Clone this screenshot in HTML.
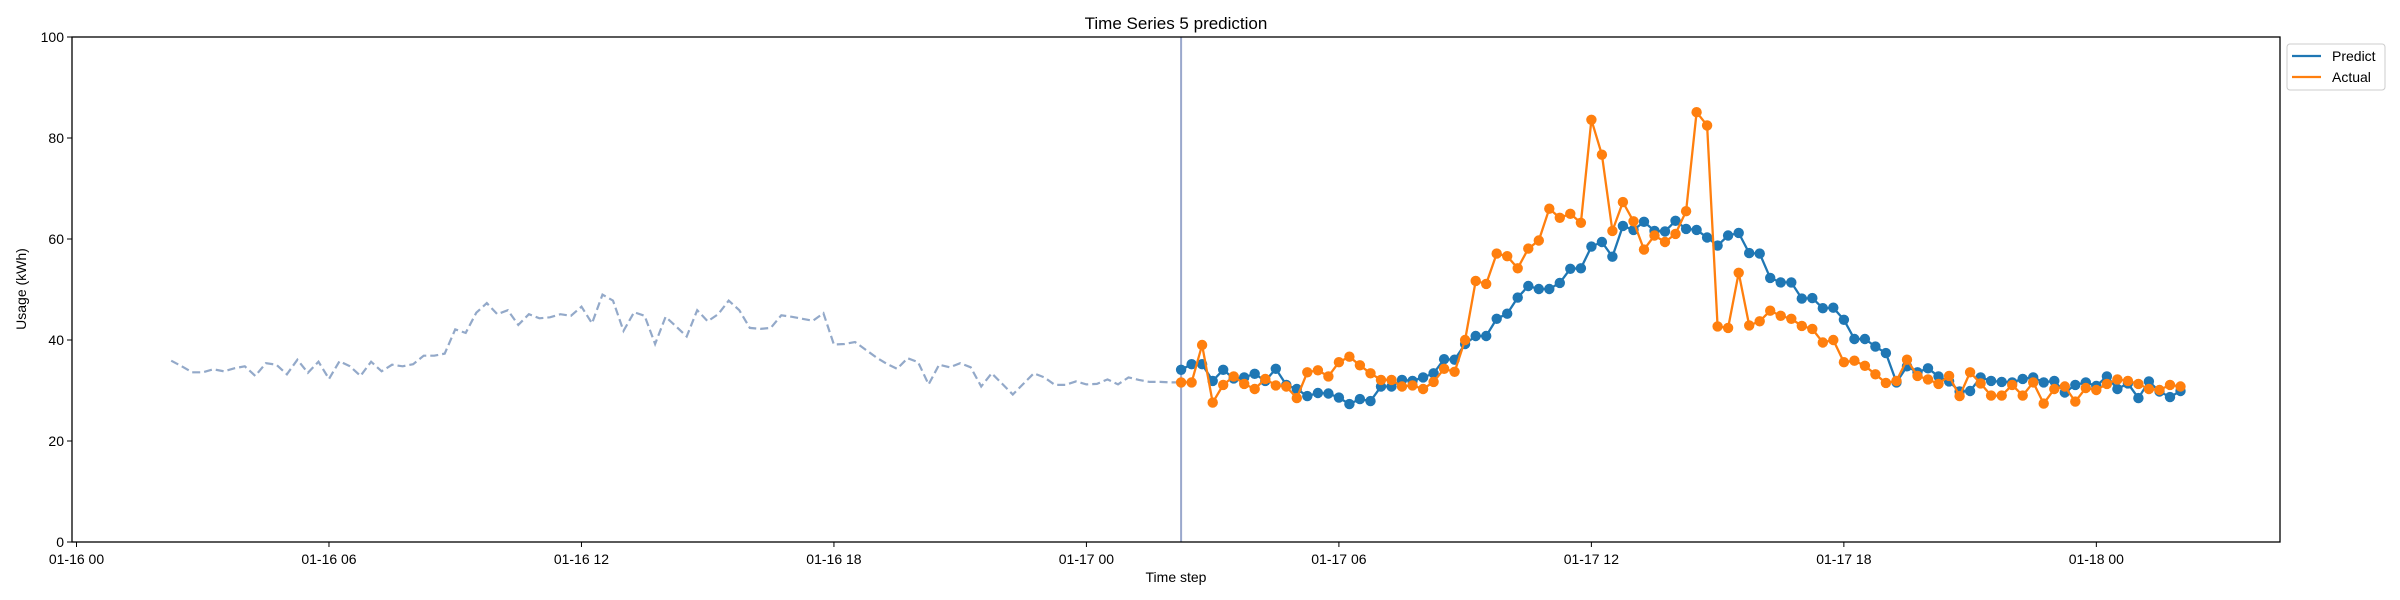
<!DOCTYPE html>
<html><head><meta charset="utf-8"><style>
html,body{margin:0;padding:0;background:#fff;}
svg{display:block;font-family:"Liberation Sans",sans-serif;}
</style></head><body>
<svg id="chart" width="2400" height="600" viewBox="0 0 2400 600" xmlns="http://www.w3.org/2000/svg">
<rect width="2400" height="600" fill="#fff"/>
<text x="1176" y="29" font-size="17" text-anchor="middle">Time Series 5 prediction</text>
<text x="1176" y="582" font-size="14" text-anchor="middle">Time step</text>
<text transform="translate(26,289) rotate(-90)" font-size="14" text-anchor="middle">Usage (kWh)</text>
<g id="plot"></g>
<g>
<rect x="2287" y="44" width="98" height="46" rx="3" fill="#fff" stroke="#ccc" stroke-width="1"/>
<line x1="2292" y1="56" x2="2321" y2="56" stroke="#1f77b4" stroke-width="2.3"/>
<text x="2332" y="61" font-size="14">Predict</text>
<line x1="2292" y1="77" x2="2321" y2="77" stroke="#ff7f0e" stroke-width="2.3"/>
<text x="2332" y="82" font-size="14">Actual</text>
</g>
</svg>
<script>
const xTickLabels = ["01-16 00","01-16 06","01-16 12","01-16 18","01-17 00","01-17 06","01-17 12","01-17 18","01-18 00"];
const xTickHours = [0,6,12,18,24,30,36,42,48];
const yTicks = [0,20,40,60,80,100];
const historyStartHour = 2.25;
const forecastStartHour = 26.25;
const stepHours = 0.25;
const history = [35.9,34.8,33.6,33.6,34.2,33.8,34.4,34.8,32.9,35.4,35.1,33.2,36.1,33.5,35.7,32.3,35.8,34.8,32.9,35.7,33.8,35.1,34.8,35.2,36.9,36.9,37.3,42.1,41.4,45.4,47.3,45.1,45.9,43.0,45.1,44.3,44.5,45.1,44.8,46.6,43.3,49.0,47.8,41.8,45.5,44.8,39.2,44.6,42.7,40.7,45.9,43.7,45.1,47.8,45.9,42.4,42.2,42.4,
44.9,44.6,44.2,43.8,45.3,39.1,39.2,39.6,38.1,36.6,35.3,34.3,36.4,35.6,31.2,35.1,34.6,35.4,34.6,30.8,33.4,31.3,29.2,31.3,33.4,32.6,31.1,31.1,31.8,31.2,31.3,32.2,31.2,32.6,32.1,31.7,31.7,31.6,31.6];
const predict = [34.1,35.2,35.2,31.9,34.1,32.4,32.6,33.3,31.9,34.3,31.1,30.3,28.9,29.5,29.4,28.6,27.3,28.3,27.9,30.8,30.8,32.1,31.9,32.6,33.4,36.2,36.1,39.2,40.8,40.8,44.2,45.2,48.4,50.7,50.1,50.1,51.3,54.1,54.2,58.5,59.4,56.5,62.6,61.8,63.4,61.6,61.5,63.6,62.0,61.8,60.3,58.7,60.7,61.2,57.2,57.1,52.3,51.4,51.4,48.2,48.3,46.3,46.4,44.0,40.2,40.2,38.7,37.4,31.6,34.8,33.6,34.4,32.8,31.8,29.8,29.9,32.6,31.9,31.7,31.6,32.3,32.6,31.6,31.9,29.6,31.1,31.6,30.9,32.8,30.3,31.4,28.5,31.8,29.8,28.7,29.9];
const actual = [31.6,31.6,39.0,27.6,31.1,32.8,31.3,30.3,32.3,31.0,30.8,28.5,33.6,34.0,32.8,35.6,36.7,35.0,33.4,32.1,32.1,30.8,31.0,30.3,31.7,34.3,33.7,40.0,51.7,51.1,57.1,56.6,54.2,58.1,59.7,66.0,64.2,65.0,63.2,83.6,76.7,61.6,67.3,63.5,57.9,60.7,59.4,61.0,65.5,85.1,82.5,42.7,42.4,53.3,42.9,43.7,45.8,44.8,44.2,42.8,42.2,39.5,40.0,35.6,35.9,34.9,33.2,31.5,31.9,36.1,32.9,32.2,31.3,32.9,28.9,33.6,31.4,29.0,29.0,31.1,29.0,31.6,27.4,30.3,30.8,27.8,30.5,30.1,31.3,32.2,31.9,31.3,30.3,30.1,31.1,30.8];

const L=72,R=2280,T=37,B=542;
const X0=76.5, PXH=42.08;
const xs = h => X0 + h*PXH;
const ys = v => B - (v/100)*(B-T);
const NS="http://www.w3.org/2000/svg";
const plot=document.getElementById('plot');
function mk(tag,attrs,parent){const e=document.createElementNS(NS,tag);for(const k in attrs)e.setAttribute(k,attrs[k]);(parent||plot).appendChild(e);return e;}

// y ticks
yTicks.forEach(v=>{
  const t=mk('line',{x1:L-5,x2:L,y1:ys(v),y2:ys(v),stroke:'#000','stroke-width':1});
  
  
  const lb=mk('text',{x:L-8,y:ys(v)+5,'font-size':14,'text-anchor':'end'});
  lb.textContent=v;
  
  
});
xTickHours.forEach((h,i)=>{
  const t=mk('line',{x1:xs(h),x2:xs(h),y1:B,y2:B+5,stroke:'#000','stroke-width':1});
  
  
  const lb=mk('text',{x:xs(h),y:B+22,'font-size':14,'text-anchor':'middle'});
  lb.textContent=xTickLabels[i];
  
  
});

// history dashed
const hp=history.map((v,i)=>xs(historyStartHour+i*stepHours).toFixed(1)+','+ys(v).toFixed(1)).join(' ');
const hl=mk('polyline',{points:hp,fill:'none',stroke:'#93a9c9','stroke-width':2.2,'stroke-dasharray':'8,4'});



// forecast start line
const vl=mk('line',{x1:xs(forecastStartHour),x2:xs(forecastStartHour),y1:T,y2:B,stroke:'#9aa8cc','stroke-width':2});



function series(data,color,name){
  const pts=data.map((v,i)=>[xs(forecastStartHour+i*stepHours),ys(v)]);
  const pl=mk('polyline',{points:pts.map(p=>p[0].toFixed(1)+','+p[1].toFixed(1)).join(' '),fill:'none',stroke:color,'stroke-width':2.3});
  
  
  pts.forEach(p=>{
    const c=mk('circle',{cx:p[0].toFixed(1),cy:p[1].toFixed(1),r:5.2,fill:color});
    
    
  });
}
series(predict,'#1f77b4','predict');
series(actual,'#ff7f0e','actual');

const fr=mk('rect',{x:L,y:T,width:R-L,height:B-T,fill:'none',stroke:'#000','stroke-width':1.3});


</script>
</body></html>
